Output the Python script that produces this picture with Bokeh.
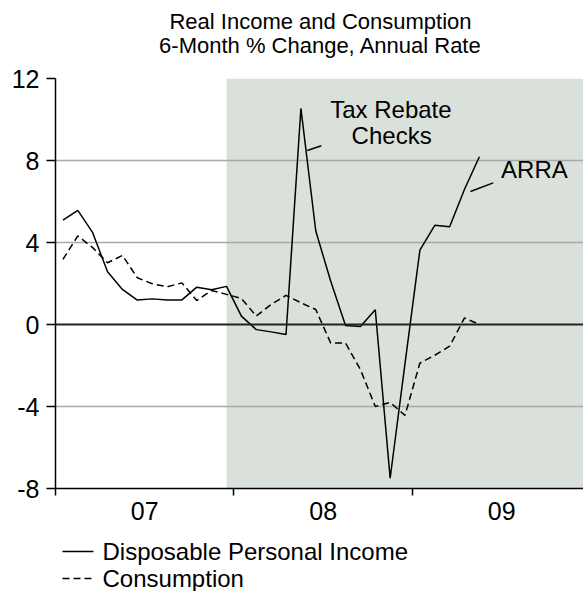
from bokeh.plotting import figure
from bokeh.layouts import column
from bokeh.models import Range1d, FixedTicker, Span, BoxAnnotation, Label
from bokeh.core.properties import value
from bokeh.embed import file_html
from bokeh.resources import INLINE

# ---- data ----
months = ["2007-01", "2007-02", "2007-03", "2007-04", "2007-05", "2007-06",
          "2007-07", "2007-08", "2007-09", "2007-10", "2007-11", "2007-12",
          "2008-01", "2008-02", "2008-03", "2008-04", "2008-05", "2008-06",
          "2008-07", "2008-08", "2008-09", "2008-10", "2008-11", "2008-12",
          "2009-01", "2009-02", "2009-03", "2009-04", "2009-05"]
income = [5.09, 5.57, 4.48, 2.57, 1.71, 1.19, 1.25, 1.20, 1.20, 1.82, 1.69, 1.86,
          0.41, -0.25, -0.36, -0.49, 10.54, 4.56, 2.12, -0.05, -0.10, 0.72,
          -7.50, -1.90, 3.63, 4.84, 4.77, 6.60, 8.18]
consumption = [3.18, 4.32, 3.75, 3.01, 3.37, 2.28, 1.99, 1.84, 2.03, 1.17, 1.66, 1.47,
               1.27, 0.41, 0.98, 1.42, 1.06, 0.73, -0.90, -0.90, -2.20, -4.00,
               -3.80, -4.43, -1.88, -1.50, -1.06, 0.32, 0.00]
year_labels = ["07", "08", "09"]
y_ticks = [-8, -4, 0, 4, 8, 12]
recession_start = "2007-12"
title_lines = ["Real Income and Consumption", "6-Month % Change, Annual Rate"]
series_names = ["Disposable Personal Income", "Consumption"]
series_dash = ["solid", "7 4"]


def month_pos(m):
    y, mo = m.split("-")
    return (int(y) - 2007) * 12 + int(mo) - 1 + 0.5


xs = [month_pos(m) for m in months]

FONT = "Liberation Sans"
W = 583
LEFT = 55


def strip(height):
    # a text strip whose data coordinates equal canvas pixels (x) / pixels from bottom (y)
    f = figure(width=W, height=height, output_backend="svg", toolbar_location=None,
               x_range=Range1d(LEFT, W), y_range=Range1d(0, height),
               x_axis_type=None, y_axis_type=None,
               min_border_left=LEFT, min_border_right=0, min_border_top=0,
               min_border_bottom=0)
    f.outline_line_color = None
    f.xgrid.visible = False
    f.ygrid.visible = False
    return f


# ---------------- title strip ----------------
pt = strip(60)
pt.text(x=[320, 320], y=[39, 15], text=title_lines, text_align="center",
        text_baseline="middle", text_font=value(FONT), text_font_size="22px",
        text_color="black")

# ---------------- main chart ----------------
p = figure(width=W, height=471, output_backend="svg", toolbar_location=None,
           x_range=Range1d(0, 35.5), y_range=Range1d(-8, 12),
           min_border_left=LEFT, min_border_right=0, min_border_top=18,
           min_border_bottom=43)
p.outline_line_color = None
p.background_fill_color = "white"
p.border_fill_color = "white"

# recession shading
p.add_layout(BoxAnnotation(left=month_pos(recession_start), fill_color="#DAE0DA",
                           fill_alpha=1.0, line_alpha=0, level="image"))

# grid
p.xgrid.visible = False
p.ygrid.ticker = FixedTicker(ticks=[t for t in y_ticks if t not in (-8, 0)])
p.ygrid.grid_line_color = "#A9A9A9"
p.ygrid.grid_line_width = 1.5

# zero line
p.add_layout(Span(location=0, dimension="width", line_color="#222222", line_width=2))

# axes
p.yaxis.ticker = FixedTicker(ticks=y_ticks)
p.yaxis.major_label_overrides = {t: str(t) for t in y_ticks}
p.yaxis.major_tick_out = 9
p.yaxis.major_tick_in = 0
p.yaxis.minor_tick_out = 0
p.yaxis.minor_tick_in = 0
p.yaxis.major_label_standoff = 7
p.yaxis.major_label_text_font = FONT
p.yaxis.major_label_text_font_size = "25px"
p.yaxis.major_label_text_color = "black"
p.yaxis.axis_line_color = "black"
p.yaxis.axis_line_width = 1.5
p.yaxis.major_tick_line_color = "black"
p.yaxis.major_tick_line_width = 1.5

label_pos = [6 + 12 * i for i in range(len(year_labels))]
p.xaxis.ticker = FixedTicker(ticks=label_pos, minor_ticks=[0, 12, 24])
p.xaxis.major_label_overrides = {lp: lab for lp, lab in zip(label_pos, year_labels)}
p.xaxis.major_tick_out = 0
p.xaxis.major_tick_in = 0
p.xaxis.minor_tick_out = 7
p.xaxis.minor_tick_in = 0
p.xaxis.minor_tick_line_color = "black"
p.xaxis.minor_tick_line_width = 1.5
p.xaxis.major_label_standoff = 6
p.xaxis.major_label_text_font = FONT
p.xaxis.major_label_text_font_size = "25px"
p.xaxis.major_label_text_color = "black"
p.xaxis.axis_line_color = "black"
p.xaxis.axis_line_width = 1.5

# series
p.line(xs, income, line_color="black", line_width=1.5, line_dash=series_dash[0])
p.line(xs, consumption, line_color="black", line_width=1.5, line_dash=series_dash[1])

# annotations
p.segment(x0=[16.93, 27.9], y0=[8.49, 6.49], x1=[17.87, 29.43], y1=[8.72, 6.91],
          line_color="black", line_width=1.5)
for txt, x, y in [("Tax Rebate", 22.55, 10.49), ("Checks", 22.6, 9.2), ("ARRA", 32.2, 7.55)]:
    p.add_layout(Label(x=x, y=y, text=txt, text_align="center", text_baseline="middle",
                       text_font=FONT, text_font_size="24px", text_color="black"))

# ---------------- legend strip ----------------
pl = strip(60)
row_y = [40, 13]
for name, dash, yy in zip(series_names, series_dash, row_y):
    pl.line(x=[62, 93], y=[yy, yy], line_color="black", line_width=1.5, line_dash=dash)
pl.text(x=[102, 102], y=row_y, text=series_names, text_align="left",
        text_baseline="middle", text_font=value(FONT), text_font_size="24px",
        text_color="black")

layout = column(pt, p, pl, spacing=0)
open("out.html", "w").write(file_html(layout, INLINE))
